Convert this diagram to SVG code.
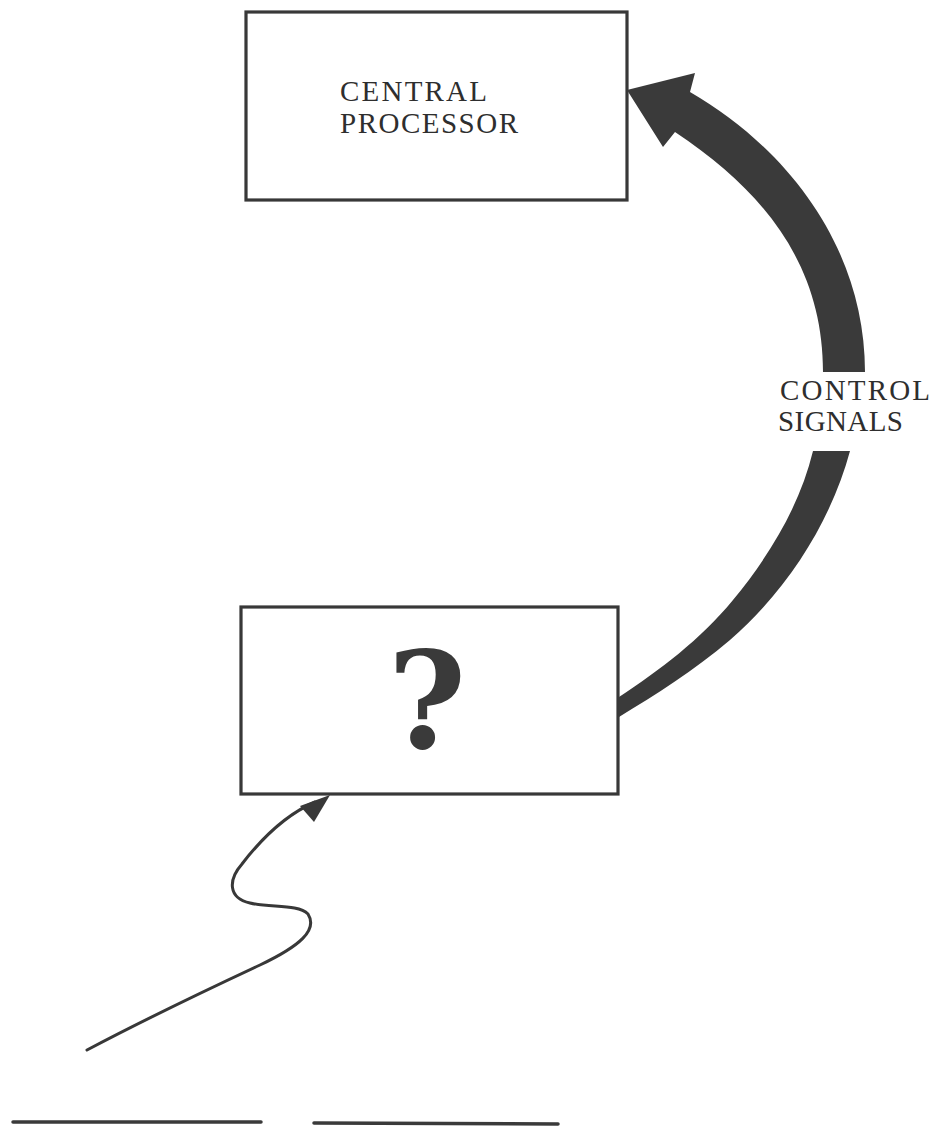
<svg xmlns="http://www.w3.org/2000/svg" width="934" height="1128" viewBox="0 0 934 1128">
  <style>
    .box { fill: #fff; stroke: #383838; stroke-width: 3.2; }
    .lbl { font-family: "Liberation Serif", "Times New Roman", serif; font-size: 29px; fill: #2e2e2e; }
    .q { font-family: "DejaVu Serif", "Liberation Serif", serif; font-weight: bold; font-size: 134px; fill: #3a3a3a; }
    .band { fill: #3a3a3a; stroke: none; }
    .wire { fill: none; stroke: #383838; stroke-width: 3; stroke-linecap: round; stroke-linejoin: round; }
    .rule { stroke: #3a3a3a; stroke-width: 3.5; stroke-linecap: round; }
  </style>
  <rect width="934" height="1128" fill="#fff"/>

  <!-- processor block -->
  <g id="central-processor">
    <rect class="box" x="246" y="12" width="381" height="188"/>
    <text class="lbl" x="340" y="101" textLength="147" lengthAdjust="spacing">CENTRAL</text>
    <text class="lbl" x="340" y="133" textLength="178" lengthAdjust="spacing">PROCESSOR</text>
  </g>

  <!-- unknown block -->
  <g id="unknown">
    <rect class="box" x="241" y="607" width="377" height="187"/>
    <text class="q" x="427" y="748" text-anchor="middle">?</text>
  </g>

  <g id="connectors">
    <!-- broad curved arrow, lower part -->
    <path class="band" d="M813,451 L850,451 C832,518 790,588 730,640 C695,670 655,695 619,717 L619,697 C660,670 700,640 733,600 C770,555 800,505 813,451 Z"/>
    <!-- broad curved arrow, upper part with head -->
    <path class="band" d="M865,372 C865,250 790,150 690,92 L695,73 L627,90 L663,147 L675,132 C770,195 823,270 823,372 Z"/>
    <text class="lbl" x="780" y="400" textLength="150" lengthAdjust="spacing">CONTROL</text>
    <text class="lbl" x="778" y="431" textLength="125" lengthAdjust="spacing">SIGNALS</text>

    <!-- wavy input -->
    <path class="wire" d="M87,1050 C140,1022 200,993 260,965 C300,946 318,930 308,914 C298,904 270,908 250,903 C228,898 228,880 242,864 C262,838 285,815 315,802"/>
    <path d="M330,795 L300,806 L314,822 Z" fill="#383838"/>

    <!-- ground rules -->
    <line class="rule" x1="13" y1="1122" x2="261" y2="1122"/>
    <line class="rule" x1="314" y1="1123" x2="558" y2="1124"/>
  </g>
</svg>
